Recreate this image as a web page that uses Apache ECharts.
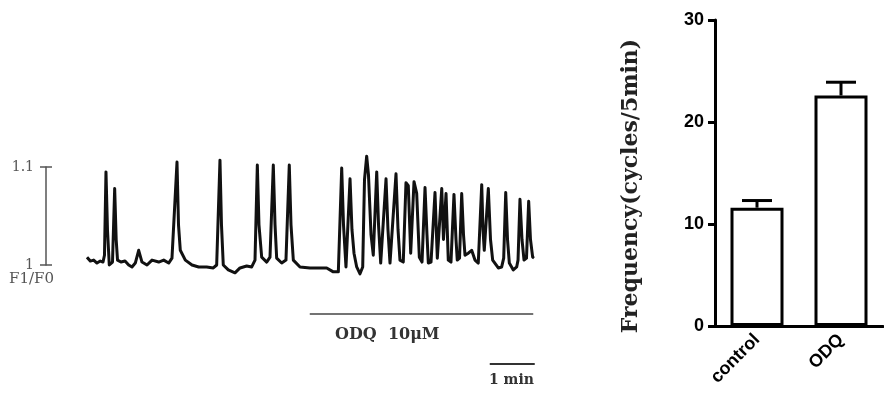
<!DOCTYPE html>
<html>
<head>
<meta charset="utf-8">
<script src="https://cdn.jsdelivr.net/npm/echarts@6/dist/echarts.min.js"></script>
<style>
  html, body { margin: 0; padding: 0; background: #fff; }
  #main { width: 884px; height: 403px; }
</style>
</head>
<body>
<div id="main"></div>
<script>
// F1/F0 scale bar ticks
var scaleTicks = [1, 1.1];

// calcium trace: [time (s), F1/F0]
var trace = [
  [0, 1.008], [4.4, 1.004], [8.9, 1.005], [13.3, 1.002], [17.7, 1.004], [21.3, 1.003],
  [23.3, 1.010], [25.3, 1.095], [27.3, 1.036], [29.7, 1.000], [34, 1.003], [36.9, 1.078],
  [38.9, 1.026], [40.7, 1.005], [45.3, 1.003], [50.7, 1.004], [55.6, 1.000], [60, 0.998],
  [64.4, 1.002], [68.9, 1.015], [73.3, 1.003], [80, 1.000], [86.7, 1.005], [95.6, 1.003],
  [102.3, 1.005], [108.9, 1.002], [113.3, 1.007], [120, 1.105], [122, 1.041], [124.4, 1.015],
  [131.1, 1.005], [140, 1.000], [148.9, 0.998], [159.6, 0.998], [168.4, 0.997], [172.9, 1.000],
  [177.3, 1.107], [179.3, 1.041], [181.7, 1.000], [188.4, 0.995], [197.3, 0.992], [204, 0.997],
  [212.9, 0.999], [219.6, 0.998], [224, 1.005], [227.1, 1.102], [229.3, 1.041], [232.9, 1.008],
  [239.6, 1.003], [244, 1.008], [248.4, 1.102], [250.7, 1.041], [252.9, 1.007], [259.6, 1.002],
  [265.3, 1.005], [269.7, 1.102], [272, 1.041], [275.1, 1.005], [284, 0.998], [297.3, 0.997],
  [310.7, 0.997], [319.6, 0.997], [328.4, 0.993], [335.1, 0.993], [339.6, 1.099], [342, 1.041],
  [345.3, 0.998], [350.7, 1.088], [353.3, 1.036], [356, 1.012], [359.6, 0.998], [364, 0.991],
  [367.6, 0.998], [370, 1.087], [372.9, 1.111], [375.3, 1.092], [378.7, 1.031], [381.7, 1.010],
  [386.3, 1.095], [388.7, 1.041], [391.6, 1.002], [398.7, 1.088], [401.3, 1.036], [404, 1.002],
  [412, 1.093], [414.7, 1.036], [417.3, 1.005], [421.7, 1.003], [425.3, 1.084], [428.4, 1.081],
  [431.6, 1.012], [436, 1.085], [439.6, 1.073], [443.1, 1.008], [446.7, 1.003], [450.7, 1.079],
  [453.3, 1.031], [455.1, 1.002], [458.7, 1.003], [464, 1.074], [467.1, 1.007], [473, 1.078],
  [475.3, 1.026], [478.7, 1.073], [481.7, 1.005], [485.3, 1.003], [489.3, 1.072], [492, 1.026],
  [493.7, 1.005], [496.7, 1.007], [499.6, 1.073], [502, 1.031], [504, 1.010], [508.4, 1.012],
  [512.9, 1.015], [517.3, 1.005], [521.7, 1.002], [526.3, 1.082], [528, 1.036], [529.7, 1.015],
  [535.1, 1.078], [538, 1.026], [540.9, 1.005], [548.4, 0.997], [552.9, 0.998], [555.6, 1.007],
  [558.3, 1.074], [560.7, 1.026], [563.1, 1.002], [568.4, 0.995], [572.9, 0.998], [574.7, 1.005],
  [577.3, 1.067], [580, 1.026], [582.7, 1.005], [586, 1.007], [588.9, 1.065], [591.3, 1.026],
  [594.2, 1.008], [596, 1.007]
];

// ODQ application (s) and 1 min time scale (s)
var odqPeriod = [297, 595];
var minuteBar = [537, 597];

// bar chart
var groups = ['control', 'ODQ'];
var freqMean = [11.6, 22.6];
var freqErrTop = [12.3, 23.9];
var freqTicks = [0, 10, 20, 30];

var chart = echarts.init(document.getElementById('main'));

var serif = 'DejaVu Serif';
var sans = 'Liberation Sans';

var option = {
  animation: false,
  backgroundColor: '#fff',
  grid: [
    { left: 46, top: 167, width: 10, height: 98 },
    { left: 87, top: 147.4, width: 450, height: 235.2 },
    { left: 715, top: 20, width: 168, height: 306 }
  ],
  xAxis: [
    { gridIndex: 0, type: 'value', show: false },
    { gridIndex: 1, type: 'value', min: 0, max: 600, show: false },
    {
      gridIndex: 2, type: 'category', data: groups,
      axisLine: { lineStyle: { color: '#000', width: 3 } },
      axisTick: { show: false },
      axisLabel: {
        rotate: 45, margin: 11, color: '#000',
        fontFamily: sans, fontWeight: 'bold', fontSize: 18
      }
    }
  ],
  yAxis: [
    {
      gridIndex: 0, type: 'value', min: scaleTicks[0], max: scaleTicks[1], interval: 0.1,
      splitLine: { show: false },
      axisLine: { show: true, lineStyle: { color: '#555', width: 1.5 } },
      axisTick: { show: true, length: 6, lineStyle: { color: '#555', width: 1.5 } },
      axisLabel: {
        margin: 12, color: '#555', fontFamily: serif, fontSize: 14,
        formatter: function (v) { return v > 1.05 ? '1.1' : '1'; }
      }
    },
    {
      gridIndex: 0, type: 'value', min: scaleTicks[0], max: scaleTicks[1], interval: 0.1,
      position: 'left',
      splitLine: { show: false },
      axisLine: { show: false },
      axisTick: { show: true, inside: true, length: 6, lineStyle: { color: '#555', width: 1.5 } },
      axisLabel: { show: false }
    },
    { gridIndex: 1, type: 'value', min: 0.88, max: 1.12, show: false },
    {
      gridIndex: 2, type: 'value', min: freqTicks[0], max: freqTicks[freqTicks.length - 1], interval: 10,
      name: 'Frequency(cycles/5min)',
      nameLocation: 'middle', nameGap: 73,
      nameTextStyle: { fontFamily: serif, fontWeight: 'bold', fontSize: 22, color: '#222', padding: [0, 26, 0, 0] },
      splitLine: { show: false },
      axisLine: { show: true, lineStyle: { color: '#000', width: 3 } },
      axisTick: { show: true, length: 7, lineStyle: { color: '#000', width: 3 } },
      axisLabel: { margin: 11, color: '#000', fontFamily: sans, fontWeight: 'bold', fontSize: 18 }
    }
  ],
  graphic: [
    {
      type: 'text', left: 9, top: 272,
      style: { text: 'F1/F0', fill: '#555', font: '15px "DejaVu Serif"' }
    },
    {
      type: 'text', left: 335, top: 327,
      style: { text: 'ODQ  10\u03bcM', fill: '#333', font: 'bold 16px "DejaVu Serif"' }
    },
    {
      type: 'text', left: 489, top: 373,
      style: { text: '1 min', fill: '#333', font: 'bold 14px "DejaVu Serif"' }
    }
  ],
  series: [
    {
      type: 'line', xAxisIndex: 1, yAxisIndex: 2,
      data: trace, symbol: 'none', silent: true,
      lineStyle: { color: '#111', width: 3, join: 'round' },
      markLine: {
        silent: true, symbol: 'none', label: { show: false },
        data: [
          [{ coord: [odqPeriod[0], 0.95], lineStyle: { color: '#444', width: 1.6, type: 'solid' } },
           { coord: [odqPeriod[1], 0.95] }],
          [{ coord: [minuteBar[0], 0.899], lineStyle: { color: '#333', width: 2, type: 'solid' } },
           { coord: [minuteBar[1], 0.899] }]
        ]
      }
    },
    {
      type: 'bar', xAxisIndex: 2, yAxisIndex: 3,
      data: freqMean, barWidth: 53, silent: true,
      itemStyle: { color: '#fff', borderColor: '#000', borderWidth: 3 }
    },
    {
      type: 'custom', xAxisIndex: 2, yAxisIndex: 3, silent: true, z: 3,
      data: groups.map(function (g, i) { return [i, freqMean[i], freqErrTop[i]]; }),
      renderItem: function (params, api) {
        var lo = api.coord([api.value(0), api.value(1)]);
        var hi = api.coord([api.value(0), api.value(2)]);
        var st = { stroke: '#000', lineWidth: 3 };
        return {
          type: 'group',
          children: [
            { type: 'line', shape: { x1: lo[0], y1: lo[1], x2: hi[0], y2: hi[1] }, style: st },
            { type: 'line', shape: { x1: hi[0] - 15, y1: hi[1], x2: hi[0] + 15, y2: hi[1] }, style: st }
          ]
        };
      }
    }
  ]
};

chart.setOption(option);
</script>
</body>
</html>
